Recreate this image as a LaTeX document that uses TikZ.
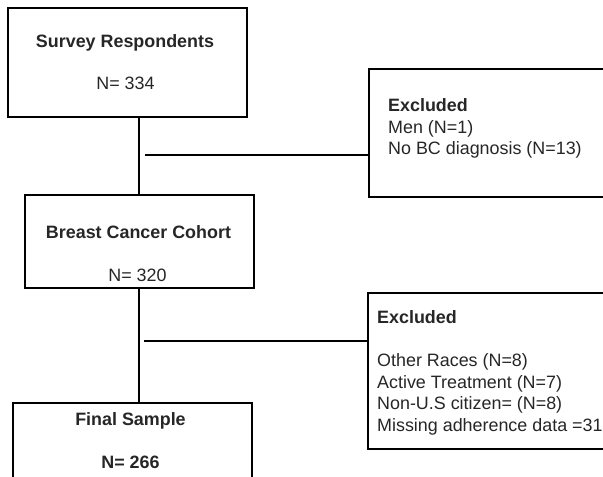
\documentclass[tikz,border=0pt]{standalone}
\usepackage{fontspec}
\setmainfont{Liberation Sans}
\begin{document}
\begin{tikzpicture}[x=1pt,y=-1pt,
  boxst/.style={draw=black,line width=2pt,inner sep=0pt,minimum width=#1},
  link/.style={draw=black,line width=1.7pt},
  txt/.style={inner sep=0pt,font=\fontsize{17.9}{21}\selectfont,text=black!85},
  btxt/.style={txt,font=\fontsize{17.9}{21}\selectfont\bfseries}]
\useasboundingbox (0,0) rectangle (603,477);
\clip (0,0) rectangle (603,477);
% boxes
\node[boxst=239pt,minimum height=109pt] (b1) at (127.5,62.5) {};
\node[boxst=229pt,minimum height=93pt] (b2) at (139.5,241.5) {};
\node[boxst=239pt,minimum height=97pt] (b3) at (132.5,451.5) {};
\node[boxst=271pt,minimum height=128pt] (e1) at (504.5,133) {};
\node[boxst=272pt,minimum height=156pt] (e2) at (504,371) {};
% texts
\node[btxt,anchor=base] (t1) at (125,47) {Survey Respondents};
\node[txt,anchor=base] (n1) at (125.5,89) {N= 334};
\node[btxt,anchor=base] (t2) at (138.5,238) {Breast Cancer Cohort};
\node[txt,anchor=base] (n2) at (137.5,281) {N= 320};
\node[btxt,anchor=base] (t3) at (130.5,425) {Final Sample};
\node[btxt,anchor=base] (n3) at (130.5,468) {N= 266};
\node[btxt,anchor=base west] (x1) at (388,111) {Excluded};
\node[txt,anchor=base west] (x1a) at (388,133) {Men (N=1)};
\node[txt,anchor=base west] (x1b) at (388,154) {No BC diagnosis (N=13)};
\node[btxt,anchor=base west] (x2) at (377,323) {Excluded};
\node[txt,anchor=base west] (x2a) at (377,366) {Other Races (N=8)};
\node[txt,anchor=base west] (x2b) at (377,388) {Active Treatment (N=7)};
\node[txt,anchor=base west] (x2c) at (377,409) {Non-U.S citizen= (N=8)};
\node[txt,anchor=base west] (x2d) at (377,431) {Missing adherence data =31};
% connectors
\coordinate (v1) at (139,0);
\draw[link] (b1.south -| v1) -- (b2.north -| v1);
\draw[link] (b2.south -| v1) -- (b3.north -| v1);
\coordinate (h1) at (145,155);
\coordinate (h2) at (144,341);
\draw[link] (h1) -- (h1 -| e1.west);
\draw[link] (h2) -- (h2 -| e2.west);
\end{tikzpicture}
\end{document}
